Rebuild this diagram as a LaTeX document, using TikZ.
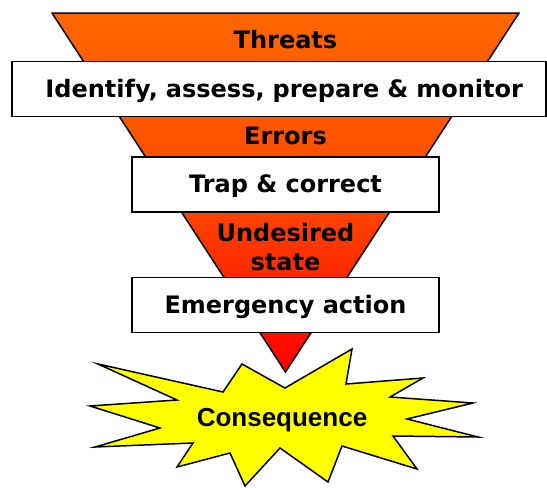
\documentclass[tikz,border=0pt]{standalone}
\usepackage{fontspec}
\setmainfont{DejaVu Sans}
\newfontfamily\consfont{Liberation Sans}
\definecolor{threatorange}{RGB}{255,102,0}
\definecolor{errororange}{RGB}{255,75,0}
\definecolor{staryellow}{RGB}{255,255,0}

\begin{document}
\begin{tikzpicture}[x = 1pt, y = -1pt,
    band/.style = {font = \fontsize{24}{29}\selectfont\bfseries, inner sep = 0pt},
    barrier/.style = {draw, fill = white, line width = 1.5pt, minimum height = 55pt,
        text height = 17pt, text depth = 1pt, inner sep = 0pt,
        font = \fontsize{24}{29}\selectfont\bfseries}]
    \useasboundingbox (0, 0) rectangle (547, 488);
    \draw[line width = 1.5pt, top color = threatorange, bottom color = red, middle color = errororange]
        (52, 13) -- (519, 13) -- (285.5, 372) -- cycle;

    \node[barrier, minimum width = 534pt, inner xsep = 23pt, text width = 488pt, align = right]
        (identify) at (279, 89) {Identify, assess, prepare \& monitor};
    \node[barrier, minimum width = 307pt] (trap) at (285.5, 184.5) {Trap \& correct};
    \node[barrier, minimum width = 307pt] (emergency) at (285.5, 305) {Emergency action};

    \node[band, anchor = base] (threats) at (285.5, 48) {Threats};
    \node[band, anchor = base] (errors) at (285.5, 144) {Errors};
    \node[band, align = center] (undesired) at (285.5, 247) {Undesired\\state};

    \draw[line width = 1.5pt, fill = staryellow]
        (98, 364) -- (223, 392) -- (242, 364) -- (285, 388) -- (352, 349) -- (346, 384)
        -- (423, 378) -- (390, 397) -- (473, 403) -- (407, 419) -- (478, 437) -- (393, 436)
        -- (417, 469) -- (342, 446) -- (328, 482) -- (280, 448) -- (245, 486) -- (230, 453)
        -- (177, 467) -- (193, 443) -- (95, 447) -- (160, 428) -- (90, 406) -- (177, 400)
        -- cycle;
    \node[font = \consfont\fontsize{26}{30}\selectfont\bfseries, anchor = base]
        (consequence) at (282, 426) {Consequence};
\end{tikzpicture}
\end{document}
